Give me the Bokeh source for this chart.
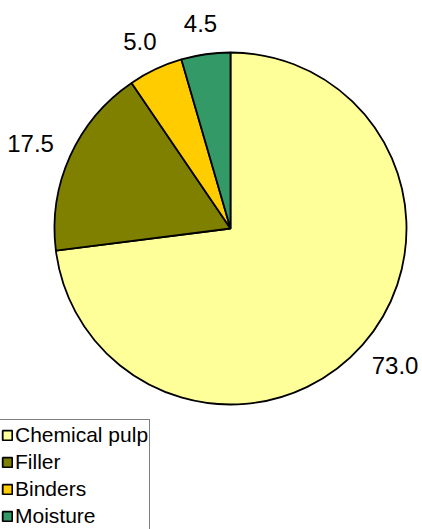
import math
from bokeh.plotting import figure
from bokeh.models import Range1d, Legend, LegendItem
from bokeh.embed import file_html
from bokeh.resources import INLINE
from bokeh.core.properties import value

categories = ["Chemical pulp", "Filler", "Binders", "Moisture"]
shares = [73.0, 17.5, 5.0, 4.5]
labels = ["73.0", "17.5", "5.0", "4.5"]
colors = ["#FFFF99", "#808000", "#FFCC00", "#339966"]

W, H = 422, 529
CX, CY = 230, 228      # pie centre in figure pixels (from top-left)
R = 176                # pie radius in pixels (1 data unit = 1 px)
GAP = 20               # gap between pie edge and label box
FS = 24                # label font size (px)

p = figure(width=W, height=H, output_backend="svg", toolbar_location=None,
           x_range=Range1d(-CX, W - CX), y_range=Range1d(-(H - CY), CY),
           x_axis_location=None, y_axis_location=None, min_border=0)
p.grid.visible = False
p.outline_line_color = None
p.background_fill_color = "white"
p.border_fill_color = "white"


def text_width(s, fs):
    w = 0.0
    for ch in s:
        w += 0.278 if ch == "." else 0.556
    return w * fs


total = sum(shares)
cum = 0.0
items = []
for cat, v, col, lab in zip(categories, shares, colors, labels):
    start = math.pi / 2 - cum / total * 2 * math.pi
    end = math.pi / 2 - (cum + v) / total * 2 * math.pi
    r = p.wedge(x=0, y=0, radius=R, start_angle=start, end_angle=end,
                direction="clock", fill_color=col, line_color="black",
                line_width=1.8)
    mid = (start + end) / 2
    ux, uy = math.cos(mid), math.sin(mid)
    tw, th = text_width(lab, FS), FS * 0.92
    lx = (R + GAP) * ux + tw / 2 * ux
    ly = (R + GAP) * uy + th / 2 * uy
    p.text(x=[lx], y=[ly], text=[lab],
           text_font=value("Liberation Sans"), text_font_size=f"{FS}px",
           text_color="black", text_align="center", text_baseline="middle")
    items.append(LegendItem(label=cat, renderers=[r]))
    cum += v

legend = Legend(items=items, location=(-1, -2), margin=0, padding=1,
                spacing=0, label_height=27, glyph_width=12, glyph_height=12,
                label_standoff=2, label_text_font="Liberation Sans",
                label_text_font_size="21px", label_text_color="black",
                border_line_color="black", border_line_width=1,
                background_fill_color="white", background_fill_alpha=1.0)
p.add_layout(legend)

open("out.html", "w").write(file_html(p, INLINE))
